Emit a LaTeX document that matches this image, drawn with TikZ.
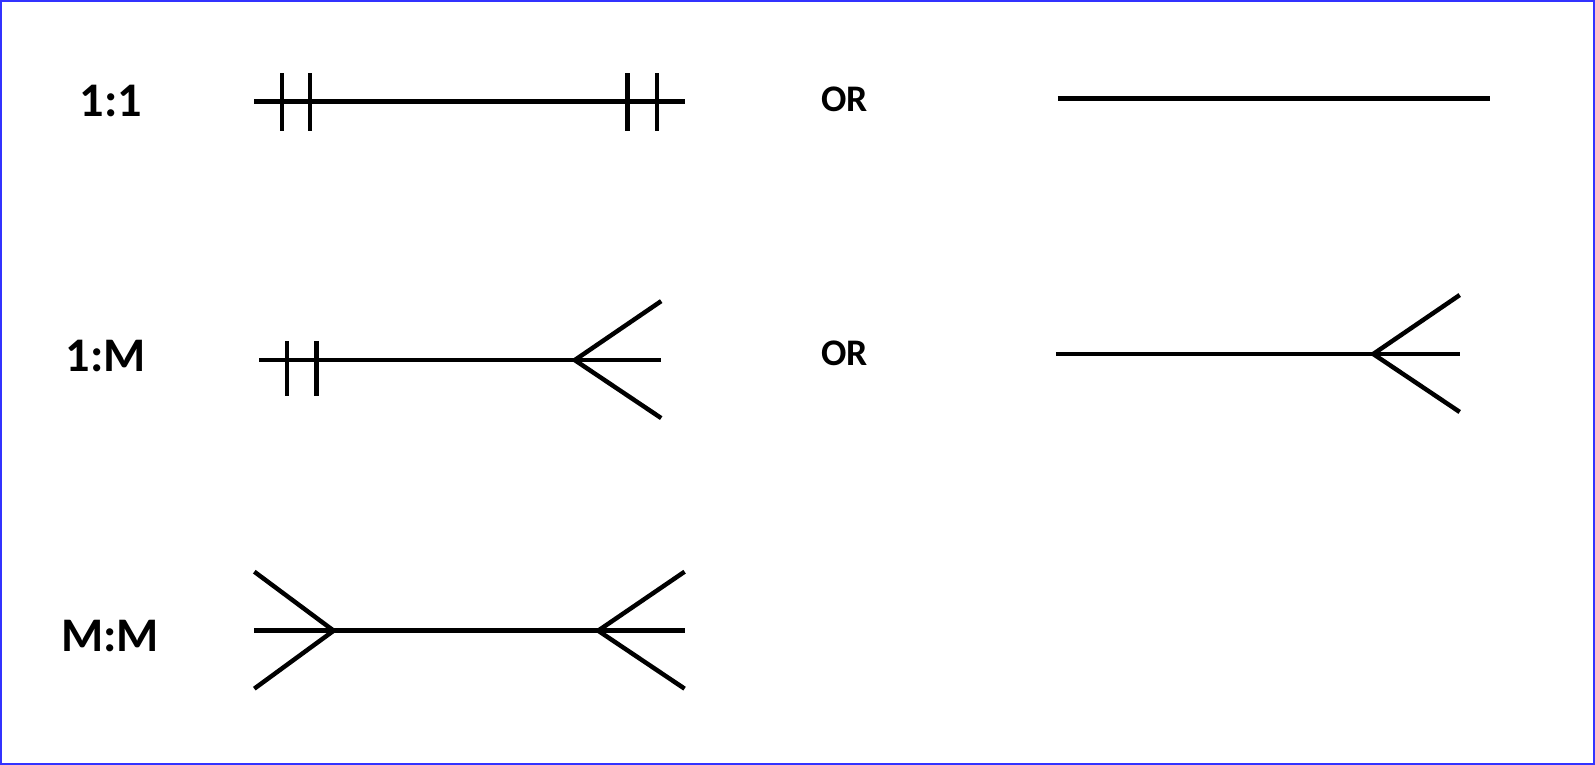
\documentclass[tikz,border=0pt]{standalone}
\usepackage{fontspec}
\setmainfont{Carlito}
\begin{document}
\begin{tikzpicture}[x=0.02cm,y=-0.02cm,
  rel/.style={line width=2.5pt,black},
  lbl/.style={font=\bfseries\fontsize{27}{31}\selectfont},
  orl/.style={font=\bfseries\fontsize{21}{25}\selectfont}]
\useasboundingbox (0,0) rectangle (1568,752);
\draw[blue!80,line width=0.8pt] (1,1) rectangle (1567,751);
% labels
\node[lbl] (l1) at (109,99) {1:1};
\node[lbl] (l2) at (104,350) {1:M};
\node[lbl] (l3) at (108,625) {M:M};
\node[orl] (o1) at (830,98) {OR};
\node[orl] (o2) at (830,347) {OR};
% row 1
\draw[rel] (250,100) -- (673,100);
\foreach \x in {277,305,617,646} \draw[rel] (\x,72) -- (\x,129);
\draw[rel] (1040,97) -- (1465,97);
% row 2
\draw[rel] (255,354) -- (650,354);
\foreach \x in {282,311} \draw[rel] (\x,335) -- (\x,389);
\draw[rel] (650,296) -- (565,354) -- (650,411);
\draw[rel] (1038,348) -- (1435,348);
\draw[rel] (1435,290) -- (1350,348) -- (1435,405);
% row 3
\draw[rel] (250,620) -- (673,620);
\draw[rel] (250,562) -- (328,620) -- (250,677);
\draw[rel] (673,562) -- (588,620) -- (673,677);
\end{tikzpicture}
\end{document}
